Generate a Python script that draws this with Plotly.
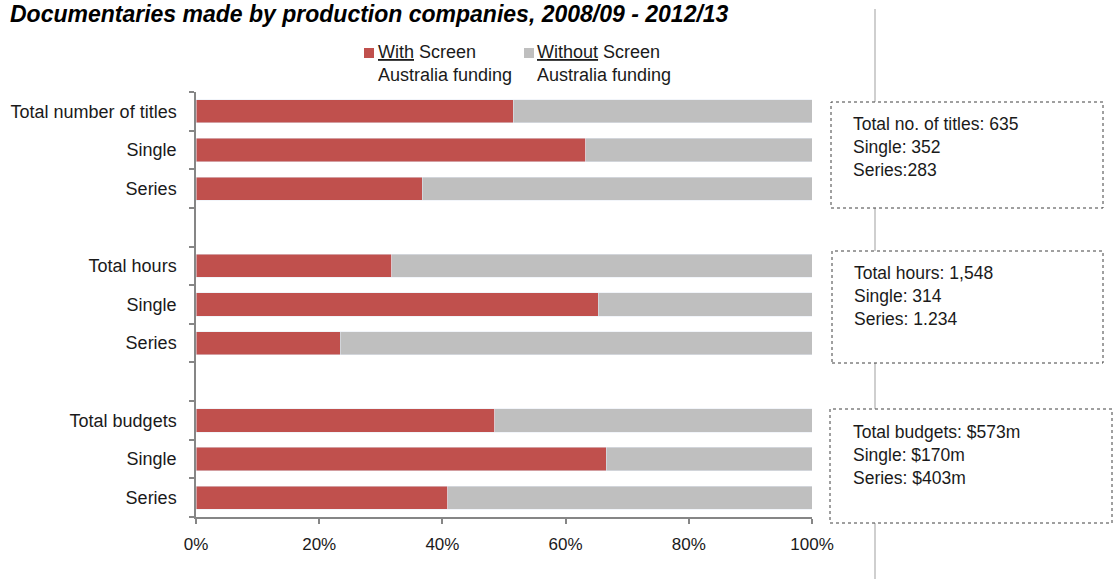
import plotly.graph_objects as go

# ---- data ----
categories = ["Total number of titles", "Single", "Series", "",
              "Total hours", "Single", "Series", "",
              "Total budgets", "Single", "Series"]
with_funding = [51.5, 63.3, 36.7, None, 31.8, 65.3, 23.4, None, 48.5, 66.6, 40.9]
without_funding = [None if v is None else round(100 - v, 1) for v in with_funding]
x_ticks = [0, 20, 40, 60, 80, 100]
x_tick_labels = ["0%", "20%", "40%", "60%", "80%", "100%"]
box_texts = [
    "Total no. of titles: 635<br>Single: 352<br>Series:283",
    "Total hours: 1,548<br>Single: 314<br>Series: 1.234",
    "Total budgets: $573m<br>Single: $170m<br>Series: $403m",
]
title_text = "Documentaries made by production companies, 2008/09 - 2012/13"

rows = list(range(len(categories)))
label_rows = [i for i, c in enumerate(categories) if c]
label_text = [categories[i] for i in label_rows]

RED = "#C0504D"
GREY = "#BFBFBF"
AX = "#868686"
TXT = "#1a1a1a"
FONT = "Liberation Sans, Arial, sans-serif"

W, H = 1118, 579
L, R, T, B = 196, 812, 92, 517


def px(x):
    return (x - L) / (R - L)


def py(y):
    return (B - y) / (B - T)


fig = go.Figure()
fig.add_trace(go.Bar(y=rows, x=with_funding, orientation="h", marker_color=RED,
                     name="With Screen Australia funding", showlegend=False))
fig.add_trace(go.Bar(y=rows, x=without_funding, orientation="h", marker_color=GREY,
                     name="Without Screen Australia funding", showlegend=False))

shapes = []
# vertical separator line
shapes.append(dict(type="line", xref="paper", yref="paper", x0=px(875), x1=px(875),
                   y0=py(579), y1=py(9), line=dict(color="#BFBFBF", width=1.5)))
# dotted boxes
boxes = [(831, 102, 1103, 208), (832, 251, 1103, 363), (830, 409, 1112, 523)]
for (x0, y0, x1, y1) in boxes:
    shapes.append(dict(type="rect", xref="paper", yref="paper", x0=px(x0), x1=px(x1),
                       y0=py(y1), y1=py(y0), fillcolor="white",
                       line=dict(color="#404040", width=1, dash="dot")))
# legend squares
shapes.append(dict(type="rect", xref="paper", yref="paper", x0=px(364), x1=px(374),
                   y0=py(58), y1=py(48), fillcolor=RED, line=dict(width=0)))
shapes.append(dict(type="rect", xref="paper", yref="paper", x0=px(524), x1=px(534),
                   y0=py(58), y1=py(48), fillcolor=GREY, line=dict(width=0)))

annotations = []
text_pos = [(851, 112), (852, 261), (851, 420)]
for (x, y), t in zip(text_pos, box_texts):
    annotations.append(dict(xref="paper", yref="paper", x=px(x), y=py(y), text=t,
                            showarrow=False, xanchor="left", yanchor="top", align="left",
                            font=dict(family=FONT, size=17.5, color=TXT)))
annotations.append(dict(xref="paper", yref="paper", x=px(376), y=py(40),
                        text="<u>With</u> Screen<br>Australia funding", showarrow=False,
                        xanchor="left", yanchor="top", align="left",
                        font=dict(family=FONT, size=18, color=TXT)))
annotations.append(dict(xref="paper", yref="paper", x=px(535), y=py(40),
                        text="<u>Without</u> Screen<br>Australia funding", showarrow=False,
                        xanchor="left", yanchor="top", align="left",
                        font=dict(family=FONT, size=18, color=TXT)))
annotations.append(dict(xref="paper", yref="paper", x=px(8), y=py(-1),
                        text="<b><i>" + title_text + "</i></b>",
                        showarrow=False, xanchor="left", yanchor="top", align="left",
                        font=dict(family=FONT, size=23, color="#000000")))

fig.update_layout(
    width=W, height=H,
    margin=dict(l=L, r=W - R, t=T, b=H - B, pad=0),
    barmode="stack", bargap=0.4,
    plot_bgcolor="white", paper_bgcolor="white",
    shapes=shapes, annotations=annotations,
    font=dict(family=FONT, size=18, color=TXT),
)
fig.update_xaxes(range=[0, 100], tickvals=x_ticks, ticktext=x_tick_labels,
                 showgrid=False, zeroline=False, showline=True, linecolor=AX, linewidth=1.5,
                 ticks="outside", ticklen=5, tickcolor=AX, tickwidth=1.5,
                 ticklabelstandoff=6,
                 tickfont=dict(family=FONT, size=17, color=TXT))
fig.update_yaxes(range=[len(categories) - 0.5, -0.5],
                 tickmode="array", tickvals=label_rows, ticktext=label_text,
                 showgrid=False, zeroline=False, showline=True, linecolor=AX, linewidth=1.5,
                 ticks="outside", ticklen=0, tickcolor="rgba(0,0,0,0)",
                 ticklabelstandoff=14,
                 minor=dict(tickmode="linear", tick0=-0.5, dtick=1, ticks="outside",
                            ticklen=5, tickcolor=AX, tickwidth=1.5, showgrid=False),
                 tickfont=dict(family=FONT, size=18, color=TXT))

fig.write_html("out.html")
